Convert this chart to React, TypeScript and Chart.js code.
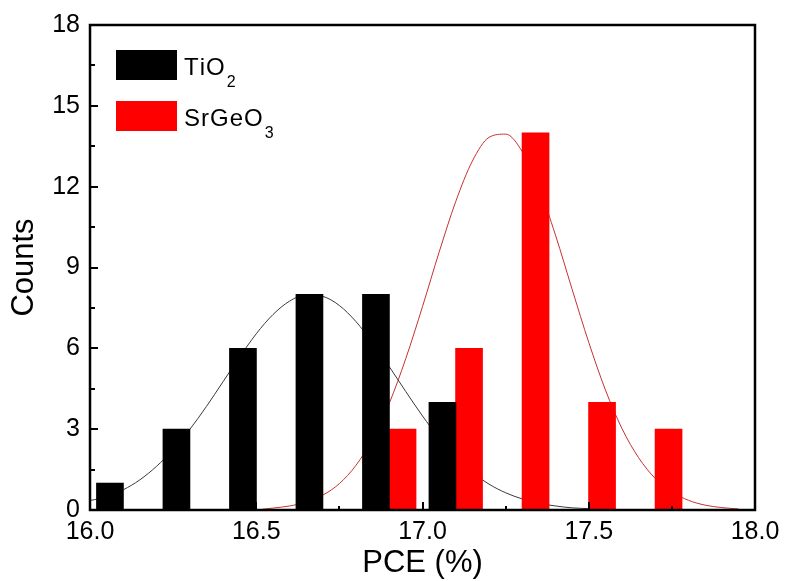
import React, { useEffect, useRef } from "react";
import { Chart, registerables } from "chart.js";

Chart.register(...registerables);

// ---- data ----
const tio2Centers = [16.06, 16.26, 16.46, 16.66, 16.86, 17.06];
const tio2Counts = [1, 3, 6, 8, 8, 4];

const srgeo3Centers = [16.94, 17.14, 17.34, 17.54, 17.74];
const srgeo3Counts = [3, 6, 14, 4, 3];

// fitted distribution curves
const tio2FitX = [
  16.0, 16.05, 16.1, 16.15, 16.2, 16.25, 16.3, 16.35, 16.4, 16.45, 16.5, 16.55,
  16.6, 16.65, 16.7, 16.75, 16.8, 16.85, 16.9, 16.95, 17.0, 17.05, 17.1, 17.15,
  17.2, 17.25, 17.3, 17.35, 17.4, 17.45, 17.5,
];
const tio2FitY = [
  0.35, 0.49, 0.75, 1.12, 1.62, 2.24, 2.99, 3.84, 4.76, 5.68, 6.54, 7.25,
  7.75, 7.99, 7.93, 7.59, 6.99, 6.21, 5.32, 4.39, 3.49, 2.67, 1.97, 1.4,
  0.96, 0.64, 0.41, 0.25, 0.15, 0.08, 0.05,
];

const srgeo3FitX = [
  16.52, 16.55, 16.6, 16.65, 16.7, 16.75, 16.8, 16.85, 16.9, 16.95, 17.0, 17.05,
  17.1, 17.15, 17.2, 17.25, 17.3, 17.35, 17.4, 17.45, 17.5, 17.55, 17.6, 17.65,
  17.7, 17.75, 17.8, 17.85, 17.9, 17.95,
];
const srgeo3FitY = [
  0.03, 0.07, 0.15, 0.29, 0.55, 0.98, 1.66, 2.64, 3.96, 5.63, 7.55, 9.57,
  11.45, 12.95, 13.83, 13.95, 13.3, 11.98, 10.2, 8.19, 6.22, 4.46, 3.02, 1.94,
  1.17, 0.67, 0.36, 0.18, 0.09, 0.04,
];

const legendMain = ["TiO", "SrGeO"];
const legendSub = ["2", "3"];

const xTitle = "PCE (%)";
const yTitle = "Counts";

const X_MIN = 16;
const X_MAX = 18;
const Y_MIN = 0;
const Y_MAX = 18;

const FONT = "'Liberation Sans', Arial, Helvetica, sans-serif";

const framePlugin = {
  id: "frameAndTicks",
  afterDatasetsDraw(chart: any) {
    const { ctx, chartArea, scales } = chart;
    const { left, right, top, bottom } = chartArea;
    const xs = scales.x;
    const ys = scales.y;
    ctx.save();
    ctx.strokeStyle = "#000";
    // inward ticks on bottom axis
    ctx.lineWidth = 2;
    for (let i = 0; i <= 8; i++) {
      const v = X_MIN + i * 0.25;
      const px = Math.round(xs.getPixelForValue(v));
      const len = i % 2 === 0 ? 8 : 4;
      ctx.beginPath();
      ctx.moveTo(px, bottom);
      ctx.lineTo(px, bottom - len);
      ctx.stroke();
    }
    // inward ticks on left axis
    for (let i = 0; i <= 12; i++) {
      const v = Y_MIN + i * 1.5;
      const py = Math.round(ys.getPixelForValue(v));
      const len = i % 2 === 0 ? 8 : 5;
      ctx.beginPath();
      ctx.moveTo(left, py);
      ctx.lineTo(left + len, py);
      ctx.stroke();
    }
    // frame
    ctx.lineWidth = 2.5;
    ctx.strokeRect(left, top, right - left, bottom - top);
    ctx.restore();
  },
  afterDraw(chart: any) {
    const { ctx, chartArea } = chart;
    const { left, right, top, bottom } = chartArea;
    ctx.save();
    // legend
    const boxes = chart.data.datasets.filter((d: any) => d.type === "bar");
    boxes.forEach((d: any, i: number) => {
      const bx = left + 26;
      const by = top + 25 + i * 51;
      ctx.fillStyle = d.backgroundColor;
      ctx.fillRect(bx, by, 61, 30);
      ctx.fillStyle = "#000";
      ctx.textAlign = "left";
      ctx.textBaseline = "alphabetic";
      ctx.font = `24px ${FONT}`;
      const tx = bx + 68;
      const base = by + 25;
      let cx = tx;
      for (const ch of legendMain[i]) {
        ctx.fillText(ch, cx, base);
        cx += ctx.measureText(ch).width + 1;
      }
      ctx.font = `16px ${FONT}`;
      ctx.fillText(legendSub[i], cx + 1, base + 12);
    });
    // axis titles
    ctx.fillStyle = "#000";
    ctx.font = `31px ${FONT}`;
    ctx.textAlign = "center";
    ctx.textBaseline = "alphabetic";
    ctx.fillText(xTitle, (left + right) / 2, 572);
    ctx.translate(33, (top + bottom) / 2);
    ctx.rotate(-Math.PI / 2);
    ctx.fillText(yTitle, 0, 0);
    ctx.restore();
  },
};

export default function App() {
  const canvasRef = useRef<HTMLCanvasElement | null>(null);

  useEffect(() => {
    if (!canvasRef.current) return;
    const chart = new Chart(canvasRef.current, {
      type: "bar",
      data: {
        datasets: [
          {
            type: "bar",
            label: "TiO2",
            data: tio2Centers.map((x, i) => ({ x, y: tio2Counts[i] })),
            backgroundColor: "#000000",
            borderWidth: 0,
            barThickness: 27,
            grouped: false,
            order: 1,
          } as any,
          {
            type: "bar",
            label: "SrGeO3",
            data: srgeo3Centers.map((x, i) => ({ x, y: srgeo3Counts[i] })),
            backgroundColor: "#ff0000",
            borderWidth: 0,
            barThickness: 27,
            grouped: false,
            order: 1,
          } as any,
          {
            type: "line",
            label: "TiO2 fit",
            data: tio2FitX.map((x, i) => ({ x, y: tio2FitY[i] })),
            borderColor: "#3a3a3a",
            borderWidth: 1,
            pointRadius: 0,
            fill: false,
            cubicInterpolationMode: "monotone",
            order: 2,
          } as any,
          {
            type: "line",
            label: "SrGeO3 fit",
            data: srgeo3FitX.map((x, i) => ({ x, y: srgeo3FitY[i] })),
            borderColor: "#c83030",
            borderWidth: 1,
            pointRadius: 0,
            fill: false,
            cubicInterpolationMode: "monotone",
            order: 2,
          } as any,
        ],
      },
      options: {
        animation: false,
        responsive: false,
        maintainAspectRatio: false,
        layout: { padding: { left: 0, right: 32, top: 23, bottom: 0 } },
        plugins: {
          legend: { display: false },
          tooltip: { enabled: false },
          title: { display: false },
        },
        scales: {
          x: {
            type: "linear",
            min: X_MIN,
            max: X_MAX,
            offset: false,
            grid: { display: false, drawTicks: false },
            border: { display: false },
            ticks: {
              stepSize: 0.5,
              padding: 7,
              color: "#000",
              font: { family: FONT, size: 25 },
              maxRotation: 0,
              callback: (v: any) => Number(v).toFixed(1),
            },
            afterFit: (s: any) => {
              s.height = 71;
            },
          },
          y: {
            type: "linear",
            min: Y_MIN,
            max: Y_MAX,
            grid: { display: false, drawTicks: false },
            border: { display: false },
            ticks: {
              stepSize: 3,
              padding: 10,
              color: "#000",
              font: { family: FONT, size: 25 },
            },
            afterFit: (s: any) => {
              s.width = 90;
            },
          },
        },
      },
      plugins: [framePlugin],
    });
    return () => chart.destroy();
  }, []);

  return (
    <div style={{ position: "absolute", left: 0, top: 0, width: 787, height: 581, background: "#fff" }}>
      <canvas ref={canvasRef} width={787} height={581} style={{ display: "block" }} />
    </div>
  );
}
